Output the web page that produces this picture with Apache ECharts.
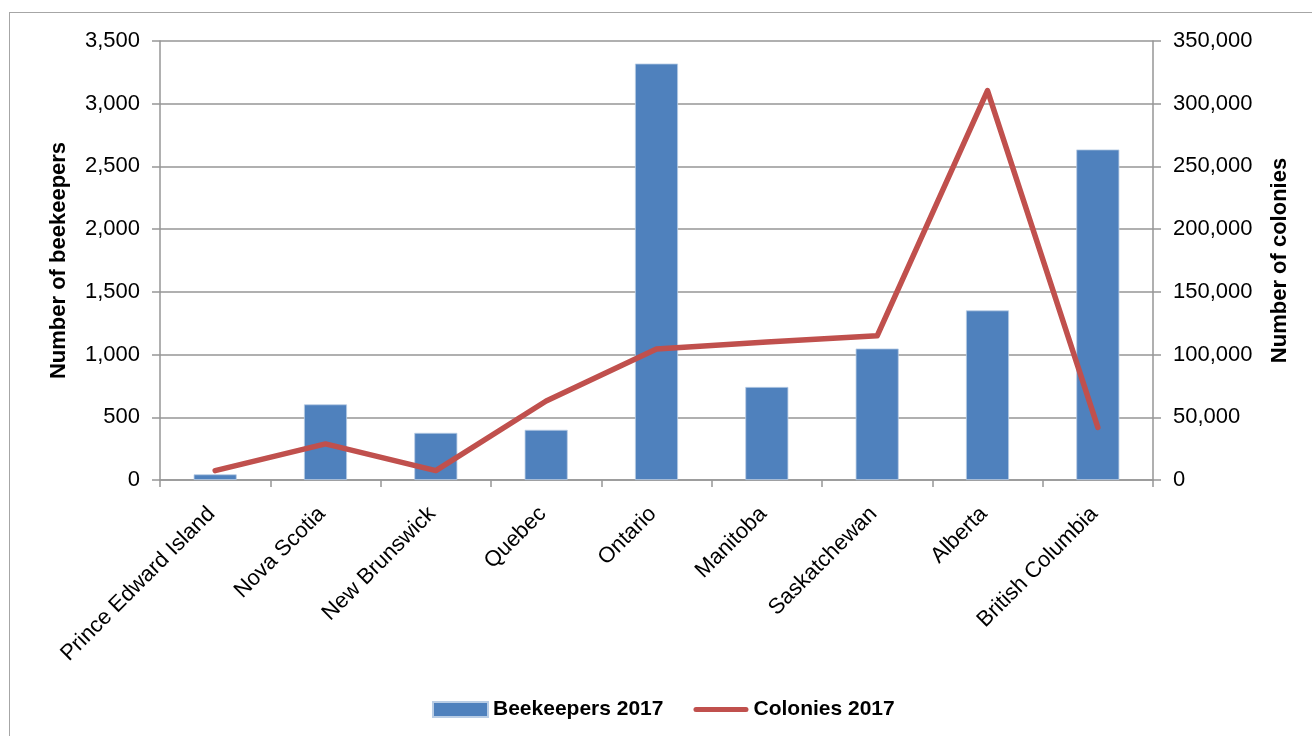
<!DOCTYPE html>
<html>
<head>
<meta charset="utf-8">
<script src="https://cdn.jsdelivr.net/npm/echarts@6/dist/echarts.min.js"></script>
<style>
html,body{margin:0;padding:0;background:#fff;}
#frame{position:absolute;left:9px;top:12px;width:1400px;height:800px;border:1.5px solid #a6a6a6;box-sizing:border-box;}
#chart{position:absolute;left:0;top:0;width:1312px;height:736px;}
</style>
</head>
<body>
<div id="frame"></div>
<div id="chart"></div>
<script>
const provinces = ["Prince Edward Island","Nova Scotia","New Brunswick","Quebec","Ontario","Manitoba","Saskatchewan","Alberta","British Columbia"];
const beekeepers2017 = [45, 603, 376, 400, 3320, 742, 1048, 1352, 2635];
const colonies2017 = [7500, 28800, 7500, 63000, 104500, 110000, 115000, 310500, 42000];
const leftTicks = {min: 0, max: 3500, interval: 500};
const rightTicks = {min: 0, max: 350000, interval: 50000};

const FONT = "'Liberation Sans', Arial, sans-serif";
const fmt = v => v.toLocaleString('en-US');
const chart = echarts.init(document.getElementById('chart'), null, {renderer: 'canvas'});
const gridColor = '#969696';
const lineIcon = 'path://M2.5,0 L52.5,0 A2.5,2.5 0 0 1 52.5,5 L2.5,5 A2.5,2.5 0 0 1 2.5,0 Z';
chart.setOption({
  animation: false,
  textStyle: {fontFamily: FONT},
  grid: {left: 160, right: 159, top: 41, bottom: 256, containLabel: false},
  legend: {
    left: 427, top: 694,
    itemGap: 30,
    itemWidth: 55, itemHeight: 15,
    symbolKeepAspect: true,
    textStyle: {fontFamily: FONT, fontSize: 21, fontWeight: 'bold', color: '#000'},
    data: [
      {name: 'Beekeepers 2017', icon: 'rect'},
      {name: 'Colonies 2017', icon: lineIcon, itemStyle: {color: '#C0504D'}}
    ]
  },
  xAxis: {
    type: 'category',
    data: provinces,
    axisLine: {lineStyle: {color: gridColor, width: 1.5}},
    axisTick: {show: true, length: 7, lineStyle: {color: gridColor, width: 1.5}},
    axisLabel: {rotate: 45, interval: 0, fontSize: 22, color: '#000', margin: 27, padding: [0, 5, 0, 0], fontFamily: FONT},
    splitLine: {show: false}
  },
  yAxis: [
    {
      type: 'value', position: 'left',
      min: leftTicks.min, max: leftTicks.max, interval: leftTicks.interval,
      name: 'Number of beekeepers', nameLocation: 'middle', nameGap: 90, nameRotate: 90,
      nameTextStyle: {fontSize: 22, fontWeight: 'bold', color: '#000', fontFamily: FONT},
      axisLine: {show: true, lineStyle: {color: gridColor, width: 1.5}},
      axisTick: {show: true, length: 8, lineStyle: {color: gridColor, width: 1.5}},
      axisLabel: {fontSize: 22, color: '#000', margin: 20, formatter: fmt, fontFamily: FONT},
      splitLine: {show: true, lineStyle: {color: gridColor, width: 1.5}}
    },
    {
      type: 'value', position: 'right',
      min: rightTicks.min, max: rightTicks.max, interval: rightTicks.interval,
      name: 'Number of colonies', nameLocation: 'middle', nameGap: 116, nameRotate: 90,
      nameTextStyle: {fontSize: 22, fontWeight: 'bold', color: '#000', fontFamily: FONT},
      axisLine: {show: true, lineStyle: {color: gridColor, width: 1.5}},
      axisTick: {show: true, length: 8, lineStyle: {color: gridColor, width: 1.5}},
      axisLabel: {fontSize: 22, color: '#000', margin: 20, formatter: fmt, fontFamily: FONT},
      splitLine: {show: false}
    }
  ],
  series: [
    {
      name: 'Beekeepers 2017', type: 'bar', yAxisIndex: 0,
      data: beekeepers2017,
      barWidth: '39%',
      itemStyle: {color: '#4F81BD', borderColor: '#b9cde5', borderWidth: 0.8}
    },
    {
      name: 'Colonies 2017', type: 'line', yAxisIndex: 1,
      data: colonies2017,
      symbol: 'none', showSymbol: false,
      lineStyle: {color: '#C0504D', width: 5.5, cap: 'round', join: 'round'},
      itemStyle: {color: '#C0504D'},
      z: 5
    }
  ]
});
</script>
</body>
</html>
